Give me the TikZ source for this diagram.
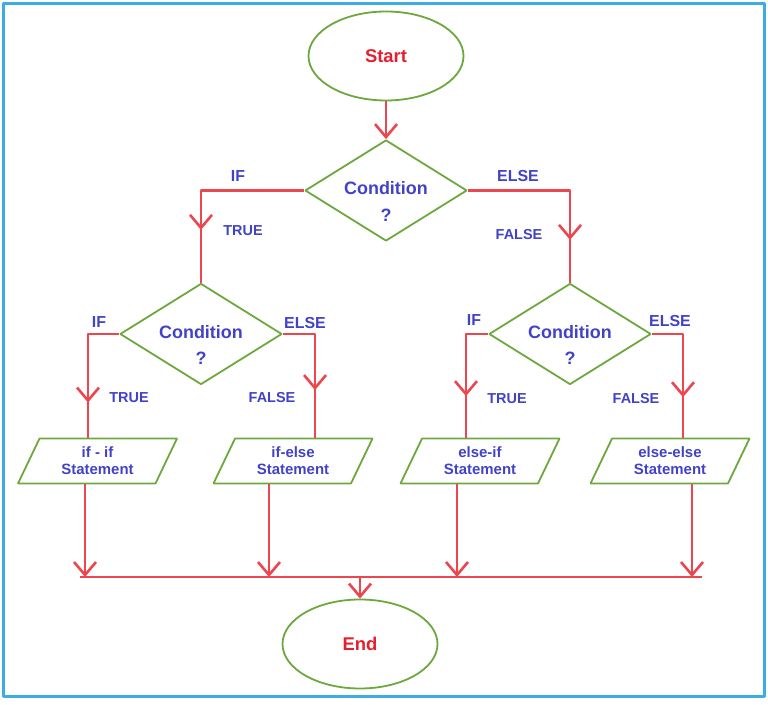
\documentclass[tikz,border=0pt]{standalone}
\usepackage{fontspec}
\setmainfont{Liberation Sans}
\usepackage{tikz}
\usetikzlibrary{arrows.meta,shapes.geometric,decorations.markings}
\definecolor{flowred}{RGB}{236,70,78}
\definecolor{boxgreen}{RGB}{108,168,62}
\definecolor{textblue}{RGB}{66,66,200}
\definecolor{termred}{RGB}{230,30,45}
\definecolor{framecol}{RGB}{62,172,228}

\begin{document}
\begin{tikzpicture}[>={Straight Barb[length=13bp,width=22bp]},line join=bevel,
  flow/.style={color=flowred,line width=2.6bp},
  midarrow/.style={flow,postaction={decorate},
    decoration={markings,mark=at position #1 with {\arrow{>}}}},
  term/.style={ellipse,draw=boxgreen,line width=1.8bp,minimum width=155bp,
    minimum height=89bp,text=termred,font=\fontsize{18.5}{22}\selectfont\bfseries},
  condtext/.style={text=textblue,align=center,yshift=-11bp,
    font=\fontsize{18}{27}\selectfont\bfseries},
  cond/.style={diamond,draw=boxgreen,line width=1.8bp,minimum width=162bp,
    minimum height=101bp,inner sep=0pt,label={[condtext]center:Condition\\?}},
  stmt/.style={trapezium,trapezium left angle=56,trapezium right angle=124,
    trapezium stretches body,draw=boxgreen,line width=1.8bp,minimum width=159bp,
    minimum height=45bp,inner sep=2bp,align=center,text=textblue,
    font=\fontsize{15}{17}\selectfont\bfseries},
  branchlbl/.style={text=textblue,font=\fontsize{16}{18}\selectfont\bfseries},
  truthlbl/.style={text=textblue,font=\fontsize{14.5}{17}\selectfont\bfseries},
]
\useasboundingbox (0bp,0bp) rectangle (768bp,705bp);
%%
  \draw[framecol,line width=3bp] (3.5bp,8bp) rectangle (764bp,701.5bp);
  % Node: Start
  \node[term] (st) at (386bp,649bp) {Start};
  % Node: Condition (outer)
  \node[cond] (c0) at (386bp,514.5bp) {};
  % Node: Condition (if)
  \node[cond] (c1) at (201bp,371bp) {};
  % Node: Condition (else)
  \node[cond] (c2) at (570bp,371bp) {};
  % Node: Statements
  \node[stmt] (p1) at (97.5bp,244bp) {if - if\\Statement};
  \node[stmt] (p2) at (293bp,244bp) {if-else\\Statement};
  \node[stmt] (p3) at (480bp,244bp) {else-if\\Statement};
  \node[stmt] (p4) at (670bp,244bp) {else-else\\Statement};
  % Node: End
  \node[term] (en) at (360bp,61bp) {End};
  \coordinate (busL) at (80bp,128bp);
  \coordinate (busR) at (702bp,128bp);
%
  % Edge: Start -> Condition
  \draw[flow,->] (st.south) -- (c0.north);
  % Edge: Condition -> Condition (if / else)
  \draw[midarrow=0.73] (c0.west) -| (c1.north);
  \draw[midarrow=0.78] (c0.east) -| (c2.north);
  \node[branchlbl] (ifA) at (238bp,529bp) {IF};
  \node[truthlbl] (trueA) at (243bp,474bp) {TRUE};
  \node[branchlbl] (elseA) at (518bp,529bp) {ELSE};
  \node[truthlbl] (falseA) at (519bp,470bp) {FALSE};
  % Edge: Condition (if) -> Statements
  \draw[midarrow=0.74] (c1.west) -| ([xshift=-9.5bp]p1.north);
  \draw[midarrow=0.65] (c1.east) -| ([xshift=22bp]p2.north);
  \node[branchlbl] (ifB) at (99bp,383bp) {IF};
  \node[truthlbl] (trueB) at (129bp,307bp) {TRUE};
  \node[branchlbl] (elseB) at (305bp,382bp) {ELSE};
  \node[truthlbl] (falseB) at (272bp,307bp) {FALSE};
  % Edge: Condition (else) -> Statements
  \draw[midarrow=0.67] (c2.west) -| ([xshift=-14bp]p3.north);
  \draw[midarrow=0.70] (c2.east) -| ([xshift=13bp]p4.north);
  \node[branchlbl] (ifC) at (474bp,385bp) {IF};
  \node[truthlbl] (trueC) at (507bp,306bp) {TRUE};
  \node[branchlbl] (elseC) at (670bp,384bp) {ELSE};
  \node[truthlbl] (falseC) at (636bp,306bp) {FALSE};
  % Edge: Statements -> End
  \draw[flow] (busL) -- (busR);
  \draw[flow,->] ([xshift=-12.5bp]p1.south) -- ([xshift=-12.5bp]p1.south |- busL);
  \draw[flow,->] ([xshift=-24bp]p2.south) -- ([xshift=-24bp]p2.south |- busL);
  \draw[flow,->] ([xshift=-23bp]p3.south) -- ([xshift=-23bp]p3.south |- busL);
  \draw[flow,->] ([xshift=22bp]p4.south) -- ([xshift=22bp]p4.south |- busL);
  \draw[flow,->] (en.north |- busL) -- (en.north);
%
\end{tikzpicture}
\end{document}
